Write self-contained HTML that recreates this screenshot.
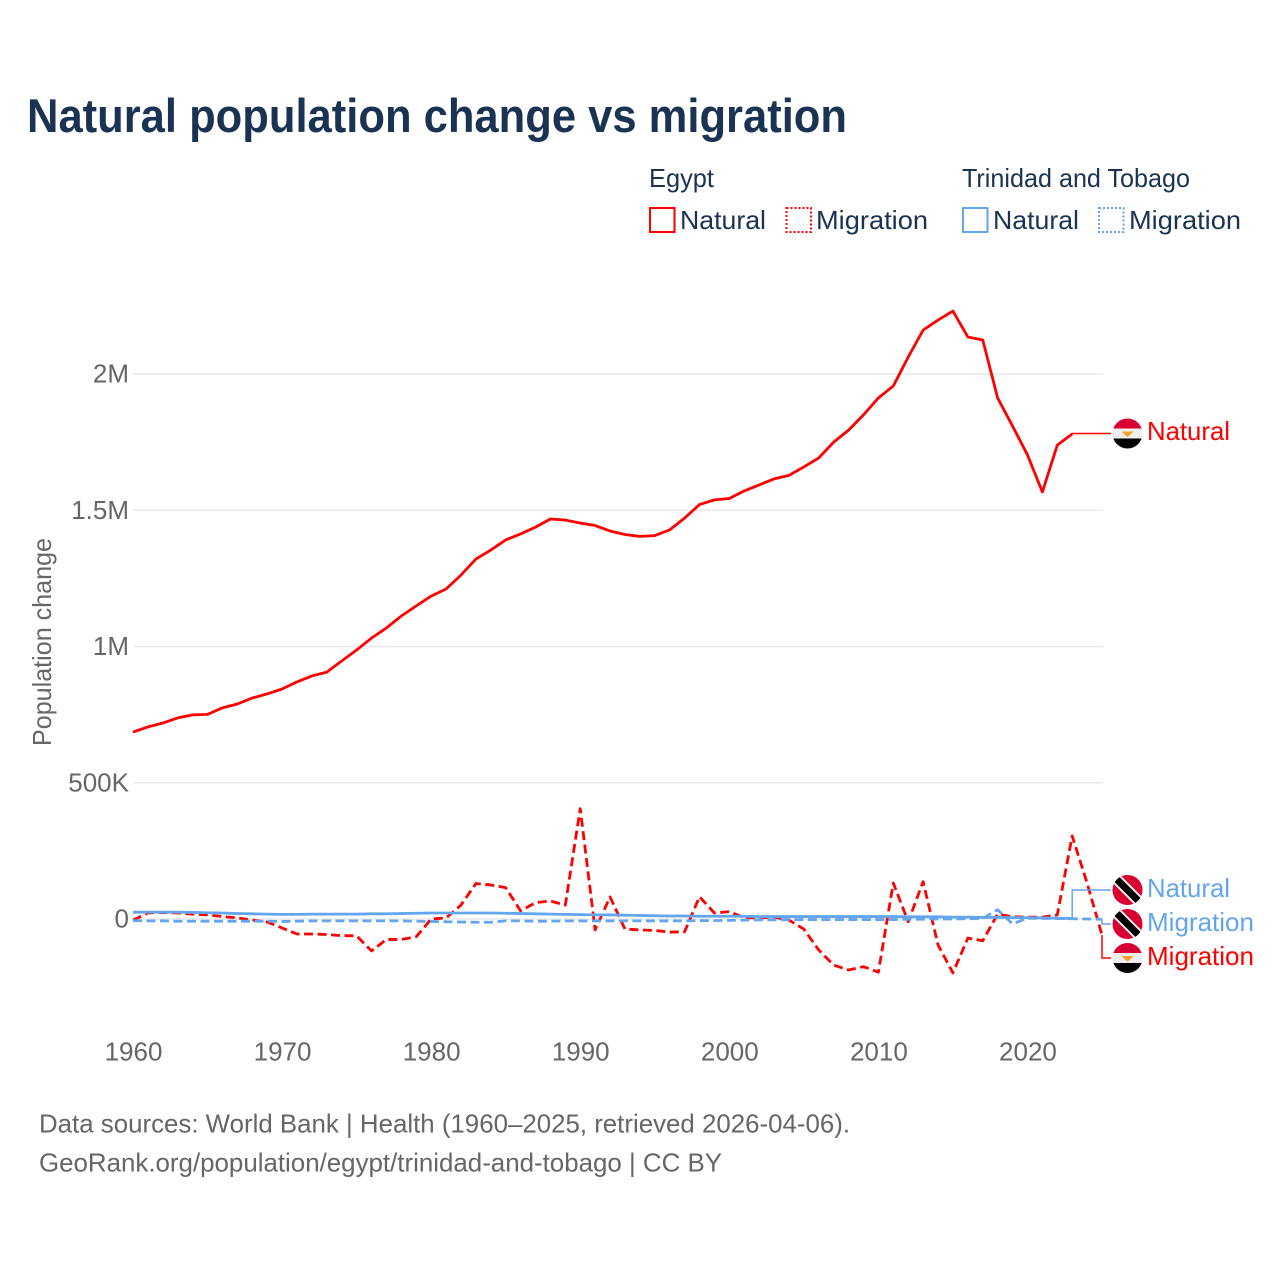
<!DOCTYPE html>
<html lang="en">
<head>
<meta charset="utf-8">
<title>Natural population change vs migration</title>
<style>
html,body{margin:0;padding:0;background:#fff;}
svg{display:block;}
text{font-family:"Liberation Sans",sans-serif;}
.legend{font-size:26px;fill:#1a3353;}
.muted{font-size:26px;fill:#666;}
.blue{font-size:26px;fill:#63a6ee;}
.red{font-size:26px;fill:#ff0000;}
</style>
</head>
<body>
<svg id="chart" width="1280" height="1280" viewBox="0 0 1280 1280" xmlns="http://www.w3.org/2000/svg">
  <defs>
    <clipPath id="flag-clip"><circle cx="0" cy="0" r="15"/></clipPath>
    <g id="egypt-flag" clip-path="url(#flag-clip)">
      <rect x="-15" y="-15" width="30" height="10" fill="#d80032"/>
      <rect x="-15" y="-5" width="30" height="10" fill="#eeeeee"/>
      <rect x="-15" y="5" width="30" height="10" fill="#000"/>
      <path d="M-6 -2 L6 -2 L2.5 1.5 L0 3.5 L-2.5 1.5 Z" fill="#f5a12e"/>
    </g>
    <g id="trinidad-flag" clip-path="url(#flag-clip)">
      <rect x="-15" y="-15" width="30" height="30" fill="#d80032"/>
      <line x1="-15" y1="-15" x2="15" y2="15" stroke="#eeeeee" stroke-width="11"/>
      <line x1="-15" y1="-15" x2="15" y2="15" stroke="#000" stroke-width="7"/>
    </g>
  </defs>
  <rect width="1280" height="1280" fill="#fff"/>

  <text x="27" y="132" font-size="47" font-weight="700" fill="#1a3353" textLength="820" lengthAdjust="spacingAndGlyphs">Natural population change vs migration</text>

  <g>
    <text class="legend" x="649" y="187" textLength="65" lengthAdjust="spacingAndGlyphs">Egypt</text>
    <text class="legend" x="962" y="187" textLength="228" lengthAdjust="spacingAndGlyphs">Trinidad and Tobago</text>
    <rect x="650" y="208" width="24.5" height="24" fill="none" stroke="#ff0000" stroke-width="2"/>
    <text class="legend" x="680" y="229" textLength="86" lengthAdjust="spacingAndGlyphs">Natural</text>
    <rect x="786.5" y="208" width="24.5" height="24" fill="none" stroke="#ff0000" stroke-width="2" stroke-dasharray="2 2"/>
    <text class="legend" x="816" y="229" textLength="112" lengthAdjust="spacingAndGlyphs">Migration</text>
    <rect x="963" y="208" width="24.5" height="24" fill="none" stroke="#63a6ee" stroke-width="2"/>
    <text class="legend" x="993" y="229" textLength="86" lengthAdjust="spacingAndGlyphs">Natural</text>
    <rect x="1099" y="208" width="24.5" height="24" fill="none" stroke="#63a6ee" stroke-width="2" stroke-dasharray="2 2"/>
    <text class="legend" x="1129" y="229" textLength="112" lengthAdjust="spacingAndGlyphs">Migration</text>
  </g>

  <text class="muted" transform="translate(51 746) rotate(-90)" x="0" y="0" textLength="208" lengthAdjust="spacingAndGlyphs">Population change</text>

  <g id="grid"></g>
  <g id="y-ticks"></g>
  <g id="x-ticks"></g>
  <g id="series"></g>
  <g id="leaders"></g>

  <use href="#egypt-flag" x="1127.5" y="433.5"/>
  <text class="red" x="1147" y="440" textLength="83" lengthAdjust="spacingAndGlyphs">Natural</text>
  <use href="#trinidad-flag" x="1127.5" y="890"/>
  <text class="blue" x="1147" y="897" textLength="83" lengthAdjust="spacingAndGlyphs">Natural</text>
  <use href="#trinidad-flag" x="1127.5" y="924"/>
  <text class="blue" x="1147" y="931" textLength="107" lengthAdjust="spacingAndGlyphs">Migration</text>
  <use href="#egypt-flag" x="1127.5" y="958"/>
  <text class="red" x="1147" y="965" textLength="107" lengthAdjust="spacingAndGlyphs">Migration</text>

  <g>
    <text class="muted" x="39" y="1132.5" textLength="811" lengthAdjust="spacingAndGlyphs">Data sources: World Bank | Health (1960–2025, retrieved 2026-04-06).</text>
    <text class="muted" x="39" y="1171.5" textLength="683" lengthAdjust="spacingAndGlyphs">GeoRank.org/population/egypt/trinidad-and-tobago | CC BY</text>
  </g>
</svg>
<script>
// Values in thousands of people; each series starts at firstYear.
const firstYear = 1960;
const egyptNatural = [
  686,705,719,738,749,751,775,789,811,826,
  844,870,892,906,947,987,1031,1068,1112,1149,
  1185,1211,1262,1321,1354,1391,1413,1438,1468,1464,
  1453,1444,1424,1411,1404,1407,1428,1471,1521,1538,
  1543,1571,1593,1615,1628,1659,1692,1750,1794,1850,
  1912,1956,2062,2161,2198,2231,2136,2125,1912,1809,
  1703,1567,1739,1780
];
const egyptMigration = [
  -4,22,24,22,18,15,9,4,-4,-11,
  -33,-55,-55,-57,-61,-62,-117,-75,-75,-65,
  0,4,51,130,125,115,30,60,66,51,
  405,-40,81,-37,-40,-42,-48,-47,82,22,
  27,5,4,7,-4,-37,-114,-169,-187,-175,
  -195,132,-10,137,-95,-198,-70,-80,18,8,
  7,7,15,305,132,-59
];
const trinidadNatural = [
  25,25,25,25,24,23,22,20,19,18,
  17,17,18,18,18,18,19,19,20,21,
  22,22,22,22,22,21,20,19,18,17,
  16,15,15,14,13,12,11,11,10,10,
  10,10,9,9,9,9,9,9,9,9,
  9,9,8,8,8,7,7,6,6,5,
  5,4,3,2
];
const trinidadMigration = [
  -6,-7,-7,-8,-8,-8,-8,-8,-8,-8,
  -9,-8,-7,-7,-7,-7,-7,-7,-7,-8,
  -9,-10,-11,-12,-12,-7,-7,-8,-8,-7,
  -7,-7,-7,-7,-7,-7,-7,-7,-6,-6,
  -5,-4,-3,-3,-2,-2,-2,-2,-2,-2,
  -2,-2,-1,-1,0,0,1,2,34,-18,
  3,2,2,1,0,-1
];
const yTickValues = [0,500,1000,1500,2000];
const yTickLabels = ["0","500K","1M","1.5M","2M"];
const xTickYears = [1960,1970,1980,1990,2000,2010,2020];

const NS = "http://www.w3.org/2000/svg";
const RED = "#ff0000", BLUE = "#63a6ee";
function xScale(year){ return 133 + (year - 1960) * (969 / 65); }
function yScale(v){ return 919 - v * (545 / 2000); }
function make(tag, attrs, parent){
  const el = document.createElementNS(NS, tag);
  for (const k in attrs) el.setAttribute(k, attrs[k]);
  parent.appendChild(el);
  return el;
}
const grid = document.getElementById("grid");
const yTicks = document.getElementById("y-ticks");
const xTicks = document.getElementById("x-ticks");
const seriesGroup = document.getElementById("series");
const leaders = document.getElementById("leaders");

yTickValues.forEach(function(v, i){
  const line = make("line", {x1:133, x2:1103, y1:yScale(v), y2:yScale(v), stroke:"#e9e9e9", "stroke-width":1.5}, grid);
  
  
  const t = make("text", {x:129, y:yScale(v)+8.5, "text-anchor":"end", class:"muted"}, yTicks);
  
  
  t.textContent = yTickLabels[i];
});
xTickYears.forEach(function(yr){
  const t = make("text", {x:xScale(yr)+0.5, y:1060.5, "text-anchor":"middle", class:"muted"}, xTicks);
  
  
  t.textContent = String(yr);
});
function pathFor(vals){
  return vals.map(function(v, i){
    return (i ? "L" : "M") + xScale(firstYear + i).toFixed(2) + " " + yScale(v).toFixed(2);
  }).join(" ");
}
const egyptMigrationLine = make("path", {d:pathFor(egyptMigration), fill:"none", stroke:RED, "stroke-width":2.8, "stroke-dasharray":"9 4.5", "stroke-linejoin":"round"}, seriesGroup);


const egyptNaturalLine = make("path", {d:pathFor(egyptNatural), fill:"none", stroke:RED, "stroke-width":2.8, "stroke-linejoin":"round"}, seriesGroup);


const trinidadMigrationLine = make("path", {d:pathFor(trinidadMigration), fill:"none", stroke:BLUE, "stroke-width":2.8, "stroke-dasharray":"9 4.5", "stroke-linejoin":"round"}, seriesGroup);


const trinidadNaturalLine = make("path", {d:pathFor(trinidadNatural), fill:"none", stroke:BLUE, "stroke-width":2.8, "stroke-linejoin":"round"}, seriesGroup);



function leaderPath(vals, labelY){
  const ex = xScale(firstYear + vals.length - 1), ey = yScale(vals[vals.length - 1]);
  return "M" + ex.toFixed(2) + " " + ey.toFixed(2) + " L" + ex.toFixed(2) + " " + labelY + " L1111 " + labelY;
}
const leaderEgyptNatural = make("path", {d:leaderPath(egyptNatural, 433.5), fill:"none", stroke:RED, "stroke-width":1.5}, leaders);


const leaderTrinidadNatural = make("path", {d:leaderPath(trinidadNatural, 890), fill:"none", stroke:BLUE, "stroke-width":1.5}, leaders);


const leaderTrinidadMigration = make("path", {d:leaderPath(trinidadMigration, 924), fill:"none", stroke:BLUE, "stroke-width":1.5}, leaders);


const leaderEgyptMigration = make("path", {d:leaderPath(egyptMigration, 958), fill:"none", stroke:RED, "stroke-width":1.5}, leaders);


</script>
</body>
</html>
